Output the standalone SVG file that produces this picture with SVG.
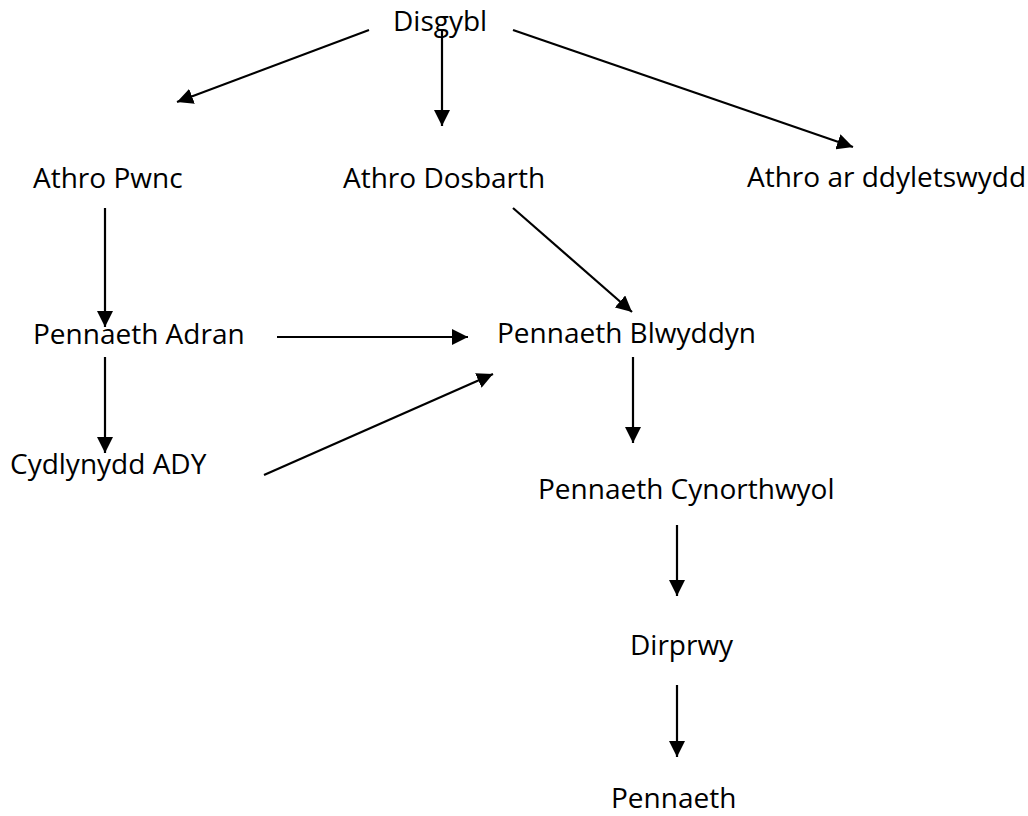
<svg xmlns="http://www.w3.org/2000/svg" width="1028" height="816" viewBox="0 0 1028 816">
<style>
  text { font-family: "Open Sans", "Liberation Sans", sans-serif; font-size: 28px; fill: #000; }
  .c line { stroke: #000; stroke-width: 2.2; marker-end: url(#ah); }
</style>
<defs>
  <marker id="ah" markerUnits="userSpaceOnUse" markerWidth="16" markerHeight="16" refX="15" refY="7.5" orient="auto" viewBox="0 0 15 15">
    <path d="M0,0 L15,7.5 L0,15 z" fill="#000"/>
  </marker>
</defs>
<rect width="1028" height="816" fill="#fff"/>
<g id="n-disgybl"><text x="393" y="31">Disgybl</text></g>
<g id="n-athro-pwnc"><text x="33" y="188">Athro Pwnc</text></g>
<g id="n-athro-dosbarth"><text x="343" y="188">Athro Dosbarth</text></g>
<g id="n-athro-ddyletswydd"><text x="747" y="187">Athro ar ddyletswydd</text></g>
<g id="n-pennaeth-adran"><text x="33" y="344">Pennaeth Adran</text></g>
<g id="n-pennaeth-blwyddyn"><text x="497" y="343">Pennaeth Blwyddyn</text></g>
<g id="n-cydlynydd"><text x="10" y="474">Cydlynydd ADY</text></g>
<g id="n-pennaeth-cynorthwyol"><text x="538" y="499">Pennaeth Cynorthwyol</text></g>
<g id="n-dirprwy"><text x="630" y="655">Dirprwy</text></g>
<g id="n-pennaeth"><text x="611" y="808">Pennaeth</text></g>
<g class="c" id="connectors">
  <line x1="369" y1="30" x2="177" y2="102"/>
  <line x1="442" y1="30" x2="442" y2="126"/>
  <line x1="513" y1="30" x2="853" y2="147"/>
  <line x1="105" y1="208" x2="105" y2="327"/>
  <line x1="105" y1="357" x2="105" y2="453"/>
  <line x1="277" y1="337" x2="468" y2="337"/>
  <line x1="264" y1="475" x2="493" y2="374"/>
  <line x1="513" y1="208" x2="632" y2="312"/>
  <line x1="633" y1="357" x2="633" y2="443"/>
  <line x1="677" y1="525" x2="677" y2="596"/>
  <line x1="677" y1="685" x2="677" y2="757"/>
</g>
</svg>
